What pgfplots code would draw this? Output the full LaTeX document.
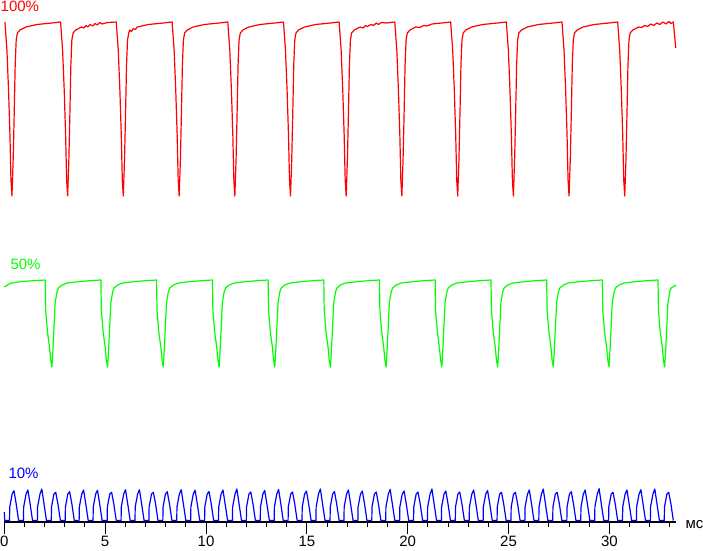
\documentclass[border=0pt]{standalone}
\usepackage{pgfplots}
\pgfplotsset{compat=1.18}
\usepackage{fontspec}
\setmainfont{Liberation Sans}
\definecolor{cred}{RGB}{255,0,0}
\definecolor{cgreen}{RGB}{0,255,0}
\definecolor{cblue}{RGB}{0,0,255}
\newcommand{\lf}{\fontsize{15}{18}\selectfont}
\begin{document}
\begin{tikzpicture}
\useasboundingbox (-4.3pt,-28pt) rectangle (698.7pt,522pt);
\begin{axis}[
  anchor=south west, at={(0pt,0pt)},
  x=20.17pt, y=1pt,
  xmin=0, xmax=33.3, ymin=0, ymax=522,
  axis y line=none, axis x line*=bottom,
  axis line style={black, line width=1.3pt},
  xtick={0,5,...,30}, minor xtick={0,1,...,33},
  xtick align=outside,
  major tick length=12pt, minor tick length=5pt,
  every tick/.style={black, line width=1pt},
  xticklabel style={font=\lf, anchor=north, inner sep=0pt, yshift=-1.8pt},
  /pgf/number format/assume math mode=true,
  clip=false,
]
% 100% trace
\addplot[cred, line width=1.2pt, line join=round] coordinates {
(0.03,500)(0.13,472)(0.21,432)(0.28,387)(0.33,342)(0.38,326)(0.44,362)(0.49,407)(0.54,457)(0.59,482)(0.65,489)(0.78,492)(1.07,495)(1.62,497.5)(2.36,499)
(2.79,500)(2.89,472)(2.97,432)(3.04,387)(3.09,342)(3.14,326)(3.20,362)(3.25,407)(3.30,457)(3.35,482)(3.41,489)(3.54,492)(3.83,495)(3.95,494)(4.05,496.5)(4.15,495)(4.25,497.5)(4.38,496)(4.5,498.5)(4.6,497)(4.75,499.5)(4.85,498)(5.12,499.5)
(5.55,500)(5.65,472)(5.73,432)(5.80,387)(5.85,342)(5.90,326)(5.96,362)(6.01,407)(6.06,457)(6.11,482)(6.17,489)(6.22,492)(6.30,490.5)(6.40,493.5)(6.50,492.5)(6.59,495)(7.14,497.5)(7.88,499)
(8.32,500)(8.42,472)(8.50,432)(8.57,387)(8.62,342)(8.67,326)(8.73,362)(8.78,407)(8.83,457)(8.88,482)(8.94,489)(9.07,492)(9.36,495)(9.91,497.5)(10.65,499)
(11.08,500)(11.18,472)(11.26,432)(11.33,387)(11.38,342)(11.43,326)(11.49,362)(11.54,407)(11.59,457)(11.64,482)(11.70,489)(11.83,492)(12.12,495)(12.67,497.5)(13.41,499)
(13.84,500)(13.94,472)(14.02,432)(14.09,387)(14.14,342)(14.19,326)(14.25,362)(14.30,407)(14.35,457)(14.40,482)(14.46,489)(14.59,492)(14.88,495)(15.43,497.5)(16.17,499)
(16.60,500)(16.70,472)(16.78,432)(16.85,387)(16.90,342)(16.95,326)(17.01,362)(17.06,407)(17.11,457)(17.16,482)(17.22,489)(17.35,492)(17.64,495)(17.8,494)(17.9,496.5)(18.0,495.5)(18.19,497.5)(18.3,496.5)(18.45,499)(18.55,497.5)(18.7,499.5)(18.93,499)
(19.36,500)(19.46,472)(19.54,432)(19.61,387)(19.66,342)(19.71,326)(19.77,362)(19.82,407)(19.87,457)(19.92,482)(19.98,489)(20.11,492)(20.40,495)(20.6,494.5)(20.8,496.5)(20.95,496)(21.2,498)(21.69,499)
(22.13,500)(22.23,472)(22.31,432)(22.38,387)(22.43,342)(22.48,326)(22.54,362)(22.59,407)(22.64,457)(22.69,482)(22.75,489)(22.88,492)(23.17,495)(23.72,497.5)(24.46,499)
(24.89,500)(24.99,472)(25.07,432)(25.14,387)(25.19,342)(25.24,326)(25.30,362)(25.35,407)(25.40,457)(25.45,482)(25.51,489)(25.64,492)(25.93,495)(26.48,497.5)(27.22,499)
(27.65,500)(27.75,472)(27.83,432)(27.90,387)(27.95,342)(28.00,326)(28.06,362)(28.11,407)(28.16,457)(28.21,482)(28.27,489)(28.40,492)(28.69,495)(29.24,497.5)(29.98,499)
(30.41,500)(30.51,472)(30.59,432)(30.66,387)(30.71,342)(30.76,326)(30.82,362)(30.87,407)(30.92,457)(30.97,482)(31.03,489)(31.16,492)(31.45,495)(31.6,494.5)(31.75,496.5)(31.9,495.5)(32.05,498)(32.2,496.5)(32.35,499)(32.5,497.5)(32.65,500)(32.8,498)(32.95,500.5)(33.05,498.5)(33.17,500)(33.29,474)
};
% 50% trace
\addplot[cgreen, line width=1.2pt, line join=round] coordinates {
(0.00,235)(0.30,238.7)(0.78,240.3)(1.42,241.3)
(2.03,242)(2.05,212)(2.14,190)(2.24,175)(2.30,162)(2.36,155)(2.41,172)(2.47,197)(2.52,219)(2.61,230)(2.68,234)(2.86,237)(3.11,239)(3.75,240.5)(4.36,241.5)
(4.79,242)(4.81,212)(4.90,190)(5.00,175)(5.06,162)(5.12,155)(5.17,172)(5.23,197)(5.28,219)(5.37,230)(5.44,234)(5.62,237)(5.87,239)(6.51,240.5)(7.12,241.5)
(7.55,242)(7.57,212)(7.66,190)(7.76,175)(7.82,162)(7.88,155)(7.93,172)(7.99,197)(8.04,219)(8.13,230)(8.20,234)(8.38,237)(8.63,239)(9.27,240.5)(9.88,241.5)
(10.32,242)(10.34,212)(10.43,190)(10.53,175)(10.59,162)(10.65,155)(10.70,172)(10.76,197)(10.81,219)(10.90,230)(10.97,234)(11.15,237)(11.40,239)(12.04,240.5)(12.65,241.5)
(13.08,242)(13.10,212)(13.19,190)(13.29,175)(13.35,162)(13.41,155)(13.46,172)(13.52,197)(13.57,219)(13.66,230)(13.73,234)(13.91,237)(14.16,239)(14.80,240.5)(15.41,241.5)
(15.84,242)(15.86,212)(15.95,190)(16.05,175)(16.11,162)(16.17,155)(16.22,172)(16.28,197)(16.33,219)(16.42,230)(16.49,234)(16.67,237)(16.92,239)(17.56,240.5)(18.17,241.5)
(18.60,242)(18.62,212)(18.71,190)(18.81,175)(18.87,162)(18.93,155)(18.98,172)(19.04,197)(19.09,219)(19.18,230)(19.25,234)(19.43,237)(19.68,239)(20.32,240.5)(20.93,241.5)
(21.36,242)(21.38,212)(21.47,190)(21.57,175)(21.63,162)(21.69,155)(21.74,172)(21.80,197)(21.85,219)(21.94,230)(22.01,234)(22.19,237)(22.44,239)(23.08,240.5)(23.69,241.5)
(24.13,242)(24.15,212)(24.24,190)(24.34,175)(24.40,162)(24.46,155)(24.51,172)(24.57,197)(24.62,219)(24.71,230)(24.78,234)(24.96,237)(25.21,239)(25.85,240.5)(26.46,241.5)
(26.89,242)(26.91,212)(27.00,190)(27.10,175)(27.16,162)(27.22,155)(27.27,172)(27.33,197)(27.38,219)(27.47,230)(27.54,234)(27.72,237)(27.97,239)(28.61,240.5)(29.22,241.5)
(29.65,242)(29.67,212)(29.76,190)(29.86,175)(29.92,162)(29.98,155)(30.03,172)(30.09,197)(30.14,219)(30.23,230)(30.30,234)(30.48,237)(30.73,239)(31.37,240.5)(31.98,241.5)
(32.41,242)(32.43,212)(32.52,190)(32.62,175)(32.68,162)(32.74,155)(32.79,172)(32.85,197)(32.90,219)(32.99,230)(33.06,234)(33.30,237)
};
% 10% trace
\addplot[cblue, line width=1.2pt, line join=round] coordinates {
(0.00,10)(0.02,1.5)
(0.26,1.5)(0.27,15)(0.39,28)(0.48,31.3)(0.59,18)(0.71,1.5)
(0.95,1.5)(0.96,15)(1.08,28)(1.17,32)(1.28,18)(1.40,1.5)
(1.64,1.5)(1.65,15)(1.77,28)(1.86,33)(1.97,18)(2.09,1.5)
(2.33,1.5)(2.34,15)(2.46,28)(2.55,29.7)(2.66,18)(2.78,1.5)
(3.02,1.5)(3.03,15)(3.15,28)(3.24,30.3)(3.35,18)(3.47,1.5)
(3.71,1.5)(3.72,15)(3.84,28)(3.93,32)(4.04,18)(4.16,1.5)
(4.40,1.5)(4.41,15)(4.53,28)(4.62,31.7)(4.73,18)(4.85,1.5)
(5.10,1.5)(5.11,15)(5.23,28)(5.32,29.7)(5.43,18)(5.55,1.5)
(5.79,1.5)(5.80,15)(5.92,28)(6.01,32.3)(6.12,18)(6.24,1.5)
(6.48,1.5)(6.49,15)(6.61,28)(6.70,32.3)(6.81,18)(6.93,1.5)
(7.17,1.5)(7.18,15)(7.30,28)(7.39,29.7)(7.50,18)(7.62,1.5)
(7.86,1.5)(7.87,15)(7.99,28)(8.08,30.3)(8.19,18)(8.31,1.5)
(8.55,1.5)(8.56,15)(8.68,28)(8.77,32.3)(8.88,18)(9.00,1.5)
(9.24,1.5)(9.25,15)(9.37,28)(9.46,31.7)(9.57,18)(9.69,1.5)
(9.93,1.5)(9.94,15)(10.06,28)(10.15,30.5)(10.26,18)(10.38,1.5)
(10.62,1.5)(10.63,15)(10.75,28)(10.84,32)(10.95,18)(11.07,1.5)
(11.31,1.5)(11.32,15)(11.44,28)(11.53,33)(11.64,18)(11.76,1.5)
(12.00,1.5)(12.01,15)(12.13,28)(12.22,30)(12.33,18)(12.45,1.5)
(12.69,1.5)(12.70,15)(12.82,28)(12.91,31.5)(13.02,18)(13.14,1.5)
(13.38,1.5)(13.39,15)(13.51,28)(13.60,32.5)(13.71,18)(13.83,1.5)
(14.07,1.5)(14.08,15)(14.20,28)(14.29,30)(14.40,18)(14.52,1.5)
(14.76,1.5)(14.77,15)(14.89,28)(14.98,31)(15.09,18)(15.21,1.5)
(15.45,1.5)(15.46,15)(15.58,28)(15.67,33)(15.78,18)(15.90,1.5)
(16.15,1.5)(16.16,15)(16.28,28)(16.37,30.5)(16.48,18)(16.60,1.5)
(16.84,1.5)(16.85,15)(16.97,28)(17.06,32)(17.17,18)(17.29,1.5)
(17.53,1.5)(17.54,15)(17.66,28)(17.75,31)(17.86,18)(17.98,1.5)
(18.22,1.5)(18.23,15)(18.35,28)(18.44,30)(18.55,18)(18.67,1.5)
(18.91,1.5)(18.92,15)(19.04,28)(19.13,32.5)(19.24,18)(19.36,1.5)
(19.60,1.5)(19.61,15)(19.73,28)(19.82,31)(19.93,18)(20.05,1.5)
(20.29,1.5)(20.30,15)(20.42,28)(20.51,30)(20.62,18)(20.74,1.5)
(20.98,1.5)(20.99,15)(21.11,28)(21.20,33)(21.31,18)(21.43,1.5)
(21.67,1.5)(21.68,15)(21.80,28)(21.89,31)(22.00,18)(22.12,1.5)
(22.36,1.5)(22.37,15)(22.49,28)(22.58,30)(22.69,18)(22.81,1.5)
(23.05,1.5)(23.06,15)(23.18,28)(23.27,32)(23.38,18)(23.50,1.5)
(23.74,1.5)(23.75,15)(23.87,28)(23.96,31.5)(24.07,18)(24.19,1.5)
(24.43,1.5)(24.44,15)(24.56,28)(24.65,29.7)(24.76,18)(24.88,1.5)
(25.12,1.5)(25.13,15)(25.25,28)(25.34,29.7)(25.45,18)(25.57,1.5)
(25.81,1.5)(25.82,15)(25.94,28)(26.03,32)(26.14,18)(26.26,1.5)
(26.50,1.5)(26.51,15)(26.63,28)(26.72,33)(26.83,18)(26.95,1.5)
(27.19,1.5)(27.20,15)(27.32,28)(27.41,29.7)(27.52,18)(27.64,1.5)
(27.89,1.5)(27.90,15)(28.02,28)(28.11,30.3)(28.22,18)(28.34,1.5)
(28.58,1.5)(28.59,15)(28.71,28)(28.80,32)(28.91,18)(29.03,1.5)
(29.27,1.5)(29.28,15)(29.40,28)(29.49,33.3)(29.60,18)(29.72,1.5)
(29.96,1.5)(29.97,15)(30.09,28)(30.18,29.7)(30.29,18)(30.41,1.5)
(30.65,1.5)(30.66,15)(30.78,28)(30.87,32)(30.98,18)(31.10,1.5)
(31.34,1.5)(31.35,15)(31.47,28)(31.56,32.3)(31.67,18)(31.79,1.5)
(32.03,1.5)(32.04,15)(32.16,28)(32.25,33)(32.36,18)(32.48,1.5)
(32.72,1.5)(32.73,15)(32.85,28)(32.94,29.7)(33.05,18)(33.17,1.5)
};
\node[anchor=base west, inner sep=0pt, text=cred, font=\lf] at (axis cs:-0.19,510) {100\%};
\node[anchor=base west, inner sep=0pt, text=cgreen, font=\lf] at (axis cs:0.30,252.7) {50\%};
\node[anchor=base west, inner sep=0pt, text=cblue, font=\lf] at (axis cs:0.20,43.7) {10\%};
\node[anchor=base west, inner sep=0pt, font=\lf] at (axis cs:33.77,-6) {мс};
\end{axis}
\end{tikzpicture}
\end{document}
